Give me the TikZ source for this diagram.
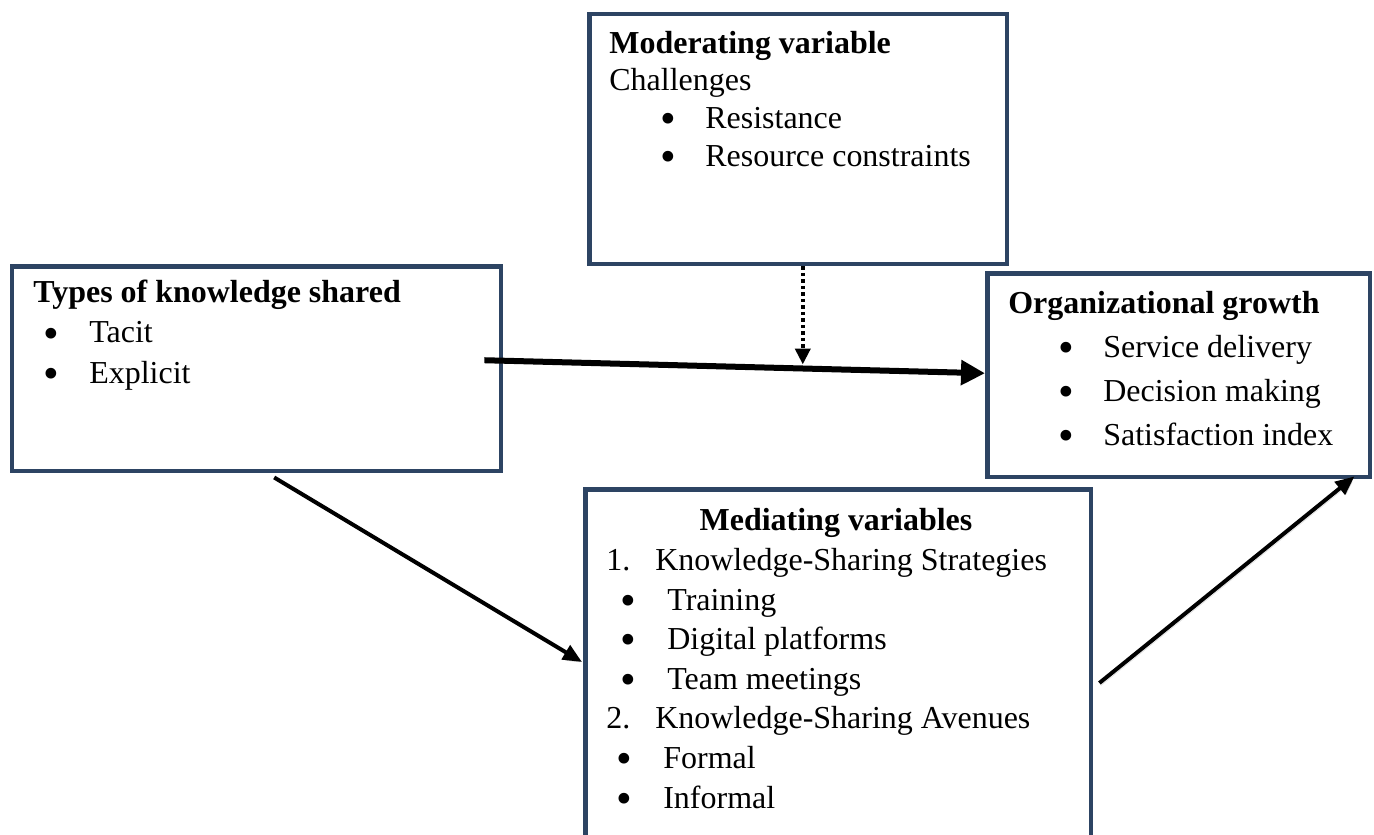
\documentclass[tikz,border=0pt]{standalone}
\usepackage{fontspec}
\setmainfont{Liberation Serif}
\usetikzlibrary{arrows.meta, positioning}
\definecolor{boxblue}{RGB}{45, 68, 99}
\newcommand{\bul}[2]{\hspace*{#1}\makebox[#2][l]{\raisebox{-0.16em}{\scalebox{1.4}{\textbullet}}}}

\begin{document}
\begin{tikzpicture}[
  x=0.02cm, y=-0.02cm,
  box/.style={rectangle, draw=boxblue, line width=0.09cm, fill=white, inner sep=0pt, anchor=north west},
  txt/.style={inner sep=0pt, anchor=base west, align=left},
  arr/.style={-{Triangle[length=0.38cm, width=0.32cm]}, black, line width=0.08cm},
  bigarr/.style={-{Triangle[length=0.48cm, width=0.48cm]}, black, line width=0.12cm},
  dotarr/.style={-{Triangle[length=0.32cm, width=0.3cm]}, black, line width=0.08cm, dash pattern=on 0.07cm off 0.06cm},
  shade/.style={preaction={draw=black!40, opacity=0.3, transform canvas={shift={(0.03cm,-0.05cm)}}}}
]
\useasboundingbox (0,0) rectangle (1374,835);
\clip (0,0) rectangle (1374,835);

% boxes
\node[box, minimum width=8.36cm, minimum height=5.0cm] (mod) at (587,12) {};
\node[box, minimum width=9.78cm, minimum height=4.1cm] (types) at (10,264) {};
\node[box, minimum width=7.66cm, minimum height=4.08cm] (org) at (985,271) {};
\node[box, minimum width=10.12cm, minimum height=7.46cm] (med) at (583,487) {};

% texts (placed at the baseline of their last line)
\node[txt, font=\fontsize{18.2}{21.4}\selectfont] (modtxt) at (609,166)
  {\textbf{Moderating variable}\\Challenges\\\bul{1.02cm}{0.9cm}Resistance\\\bul{1.02cm}{0.9cm}Resource constraints};
\node[txt, font=\fontsize{18.2}{22.8}\selectfont] (typestxt) at (33,383)
  {\textbf{Types of knowledge shared}\\\bul{0.2cm}{0.92cm}Tacit\\\bul{0.2cm}{0.92cm}Explicit};
\node[txt, font=\fontsize{18.2}{25}\selectfont] (orgtxt) at (1008,445)
  {\textbf{Organizational growth}\\\bul{1.0cm}{0.9cm}Service delivery\\\bul{1.0cm}{0.9cm}Decision making\\\bul{1.0cm}{0.9cm}Satisfaction index};
\node[txt, anchor=base, font=\fontsize{18.2}{22.5}\selectfont] (medhead) at (836,530) {\textbf{Mediating variables}};
\node[txt, font=\fontsize{18.2}{22.5}\selectfont] (medtxt) at (606,808)
  {\makebox[0.98cm][l]{1.}Knowledge-Sharing Strategies\\
   \bul{0.28cm}{0.94cm}Training\\
   \bul{0.28cm}{0.94cm}Digital platforms\\
   \bul{0.28cm}{0.94cm}Team meetings\\
   \makebox[0.98cm][l]{2.}Knowledge-Sharing Avenues\\
   \bul{0.2cm}{0.94cm}Formal\\
   \bul{0.2cm}{0.94cm}Informal};

% arrows
\draw[bigarr, shade] ([shift={(-19,-8.5)}]types.east) -- coordinate[pos=0.636] (mid) ([shift={(0,-2)}]org.west);
\draw[dotarr] (mid |- mod.south) -- ([shift={(0,-4)}]mid);
\draw[arr, shade] ([shift={(17.5,4)}]types.south) -- ([shift={(-1,175)}]med.north west);
\draw[arr, shade] ([shift={(6,196)}]med.north east) -- ([shift={(-18,-3)}]org.south east);

\end{tikzpicture}
\end{document}
